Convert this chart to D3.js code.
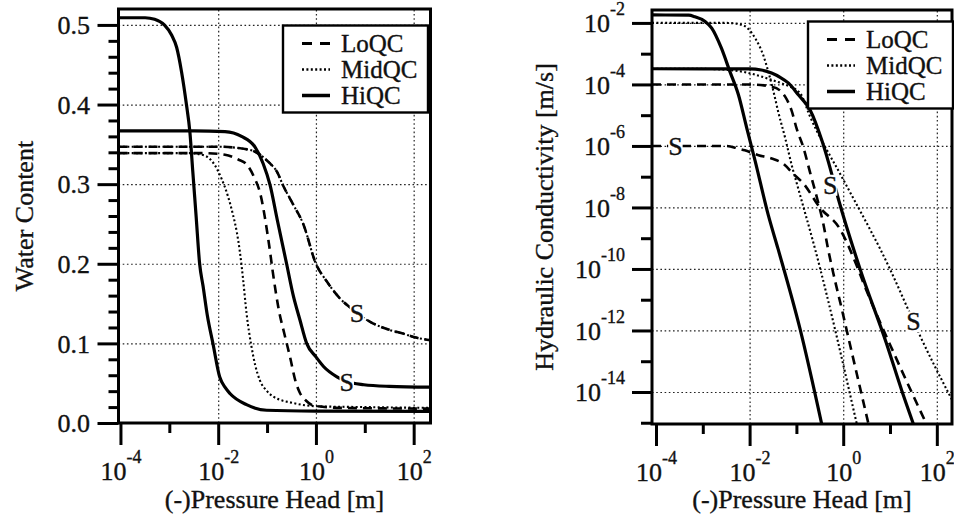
<!DOCTYPE html>
<html>
<head>
<meta charset="utf-8">
<title>Water retention and hydraulic conductivity curves</title>
<script src="https://cdn.jsdelivr.net/npm/d3@7/dist/d3.min.js"></script>
<style>
  html, body { margin: 0; padding: 0; background: #fff; }
  svg text { font-family: "Liberation Serif", "Times New Roman", "DejaVu Serif", serif; fill: #111; stroke: #111; stroke-width: 0.35; }
</style>
</head>
<body>
<svg id="chart" width="954" height="516"></svg>
<script>
// ---------------------------------------------------------------
// Data: (-)pressure head h [m] paired with the soil property
// ---------------------------------------------------------------

// Water content θ(h)
const thetaHiQC = [
  [9.12e-5, 0.509], [3.2e-4, 0.509], [5.0e-4, 0.507], [7.9e-4, 0.500],
  [1.12e-3, 0.487], [1.41e-3, 0.472], [1.78e-3, 0.441], [2.24e-3, 0.400],
  [2.63e-3, 0.366], [3.02e-3, 0.316], [3.55e-3, 0.258], [4.17e-3, 0.200],
  [4.9e-3, 0.172], [6.0e-3, 0.135], [7.8e-3, 0.100], [1.07e-2, 0.058],
  [1.41e-2, 0.044], [1.74e-2, 0.037], [3.8e-2, 0.023], [9.8e-2, 0.016],
  [1.0, 0.015], [221, 0.0145]
];
const thetaHiQC_S = [
  [9.12e-5, 0.367], [3.2e-3, 0.367], [1.38e-2, 0.366], [3.0e-2, 0.360],
  [5.6e-2, 0.347], [8.3e-2, 0.326], [0.115, 0.299], [0.162, 0.255],
  [0.251, 0.200], [0.347, 0.159], [0.468, 0.130], [0.646, 0.100],
  [1.0, 0.083], [1.43, 0.071], [2.69, 0.058], [4.27, 0.052],
  [9.55, 0.048], [31.6, 0.046], [221, 0.045]
];
const thetaLoQC = [
  [9.12e-5, 0.339], [5.0e-3, 0.339], [1.38e-2, 0.337], [2.57e-2, 0.331],
  [3.8e-2, 0.325], [5.5e-2, 0.308], [7.2e-2, 0.289], [0.107, 0.229],
  [0.138, 0.180], [0.174, 0.142], [0.224, 0.113], [0.295, 0.083],
  [0.38, 0.053], [0.468, 0.038], [0.63, 0.028], [0.89, 0.022],
  [3.16, 0.019], [221, 0.018]
];
const thetaMidQC = [
  [9.12e-5, 0.339], [2.5e-3, 0.339], [5.2e-3, 0.336], [8.5e-3, 0.324],
  [1.17e-2, 0.307], [1.58e-2, 0.285], [2.0e-2, 0.262], [2.4e-2, 0.240],
  [2.75e-2, 0.217], [3.24e-2, 0.180], [3.8e-2, 0.138], [4.8e-2, 0.096],
  [5.75e-2, 0.072], [7.1e-2, 0.054], [0.1, 0.040], [0.135, 0.033],
  [0.347, 0.025], [1.05, 0.021], [10, 0.020], [221, 0.019]
];
const thetaLoQC_S = [
  [9.12e-5, 0.347], [1.0e-2, 0.347], [4.5e-2, 0.343], [7.1e-2, 0.337],
  [0.115, 0.326], [0.158, 0.316], [0.214, 0.298], [0.339, 0.275],
  [0.55, 0.250], [1.0, 0.200], [1.66, 0.178], [3.16, 0.156],
  [5.0, 0.145], [6.9, 0.138], [12.9, 0.127], [31.6, 0.117],
  [63, 0.112], [100, 0.108], [221, 0.104]
];
// the two S retention curves of the lower classes coincide
const thetaMidQC_S = thetaLoQC_S;

// Hydraulic conductivity K(h) [m/s]
const condHiQC = [
  [8.22e-5, 1.82e-2], [5.0e-4, 1.78e-2], [6.8e-4, 1.58e-2], [1.12e-3, 1.12e-2],
  [1.55e-3, 6.8e-3], [2.5e-3, 1.51e-3], [3.8e-3, 2.6e-4], [5.75e-3, 4.7e-5],
  [8.7e-3, 3.8e-6], [1.32e-2, 3.16e-7], [2.51e-2, 5.6e-9], [4.07e-2, 4.4e-10],
  [0.120, 1.10e-12], [0.347, 9.1e-16]
];
const condHiQC_S = [
  [8.22e-5, 3.24e-4], [1.0e-2, 3.2e-4], [1.78e-2, 2.95e-4], [2.95e-2, 2.34e-4],
  [4.5e-2, 1.70e-4], [6.8e-2, 1.10e-4], [0.110, 4.6e-5], [0.195, 1.51e-5],
  [0.355, 1.41e-6], [0.479, 3.16e-7], [0.794, 1.82e-8], [2.29, 1.0e-10],
  [8.3, 4.0e-13], [17.8, 1.12e-14], [31.6, 9.1e-16]
];
const condMidQC = [
  [8.22e-5, 1.0e-2], [3.2e-3, 1.0e-2], [6.8e-3, 8.7e-3], [1.32e-2, 3.16e-3],
  [1.95e-2, 9.1e-4], [2.51e-2, 2.6e-4], [3.24e-2, 5.9e-5], [4.07e-2, 1.32e-5],
  [5.75e-2, 1.82e-6], [7.9e-2, 2.45e-7], [0.110, 4.0e-8], [0.251, 4.4e-10],
  [1.95, 9.1e-16]
];
const condLoQC = [
  [8.22e-5, 1.0e-4], [1.0e-2, 1.0e-4], [2.95e-2, 8.5e-5], [4.5e-2, 6.3e-5],
  [5.75e-2, 4.0e-5], [7.9e-2, 1.41e-5], [0.102, 3.5e-6], [0.141, 8.9e-7],
  [0.195, 1.41e-7], [0.282, 1.78e-8], [0.372, 3.16e-9], [0.468, 5.0e-10],
  [1.0, 3.16e-12], [3.47, 9.1e-16]
];
const condLoQC_S = [
  [8.22e-5, 1.0e-6], [3.2e-3, 1.0e-6], [5.75e-3, 8.2e-7], [7.9e-3, 7.2e-7],
  [1.55e-2, 5.0e-7], [2.95e-2, 3.9e-7], [5.5e-2, 2.5e-7], [8.5e-2, 1.25e-7],
  [0.141, 6.0e-8], [0.316, 1.0e-8], [0.85, 2.0e-9], [1.95, 1.26e-10],
  [2.69, 3.6e-11], [13.8, 1.17e-13], [60, 9.1e-16]
];
const condMidQC_S = [
  [8.22e-5, 3.24e-4], [1.0e-3, 3.2e-4], [5.0e-3, 2.8e-4], [2.95e-2, 1.41e-4],
  [5.75e-2, 9.8e-5], [0.120, 5.2e-5], [0.195, 9.1e-6], [1.0, 8.1e-8],
  [4.07, 1.51e-9], [6.2, 4.4e-10], [10, 9.8e-11], [31.6, 2.0e-12],
  [43.7, 6.8e-13], [190, 7.6e-15], [211, 5.6e-15]
];

// "S" markers placed on curves
const thetaMarks = [[6.9, 0.138], [4.27, 0.052]];
const condMarks = [[2.6e-4, 1.0e-6], [0.525, 5.5e-8], [31.6, 2.0e-12]];

// Axis ticks
const headMajor = [1e-4, 1e-2, 1, 1e2];
const headMinor = [1e-3, 1e-1, 1e1];
const thetaMajor = [0, 0.1, 0.2, 0.3, 0.4, 0.5];
const thetaMinor = [0.02, 0.04, 0.06, 0.08, 0.12, 0.14, 0.16, 0.18, 0.22, 0.24, 0.26, 0.28,
                    0.32, 0.34, 0.36, 0.38, 0.42, 0.44, 0.46, 0.48];
const condMajor = [1e-2, 1e-4, 1e-6, 1e-8, 1e-10, 1e-12, 1e-14];
const condMinor = [1e-3, 1e-5, 1e-7, 1e-9, 1e-11, 1e-13, 1e-15];

const legendKeys = ["LoQC", "MidQC", "HiQC"];

// ---------------------------------------------------------------
// Drawing
// ---------------------------------------------------------------
const svg = d3.select("#chart");
svg.append("rect").attr("width", 954).attr("height", 516).attr("fill", "#fff");

const lineStyle = {
  LoQC:  { dash: "9,6",     width: 2.6 },
  MidQC: { dash: "2,2.4",   width: 2.1 },
  HiQC:  { dash: null,      width: 3.2 }
};

const FONT = 26, SUP = 18, LEGEND_FONT = 25;

function superscriptLabel(sel, d) {
  sel.text(null);
  sel.append("tspan").text("10");
  sel.append("tspan").attr("font-size", SUP).attr("dy", -17)
     .text(String(Math.round(Math.log10(d))));
}

function drawPanel(cfg) {
  const { id, x, y } = cfg;
  const [x0, x1] = x.range();
  const [yb, yt] = y.range();
  const g = svg.append("g").attr("class", id);

  g.append("clipPath").attr("id", id + "-clip")
    .append("rect").attr("x", x0).attr("y", yt).attr("width", x1 - x0).attr("height", yb - yt);

  // dotted grid
  const gridStyle = s => s.call(q => q.select(".domain").remove())
    .selectAll(".tick line").attr("stroke", "#222").attr("stroke-width", 1.2)
    .attr("stroke-dasharray", "1.6,2.6");
  g.append("g").attr("transform", `translate(0,${yb})`)
    .call(d3.axisBottom(x).tickValues(cfg.gridX).tickSize(-(yb - yt)).tickFormat(""))
    .call(gridStyle);
  g.append("g").attr("transform", `translate(${x0},0)`)
    .call(d3.axisLeft(y).tickValues(cfg.gridY).tickSize(-(x1 - x0)).tickFormat(""))
    .call(gridStyle);

  // curves
  const line = d3.line().x(d => x(d[0])).y(d => y(d[1])).curve(d3.curveMonotoneX);
  const curves = g.append("g").attr("clip-path", `url(#${id}-clip)`);
  cfg.series.forEach(s => {
    const st = lineStyle[s.key];
    curves.append("path").datum(s.data)
      .attr("d", line).attr("fill", "none").attr("stroke", "#000")
      .attr("stroke-width", st.width).attr("stroke-linejoin", "round")
      .attr("stroke-dasharray", st.dash);
  });

  // "S" markers with a white knock-out
  cfg.marks.forEach(m => {
    const mg = g.append("g");
    const t = mg.append("text").attr("x", x(m[0])).attr("y", y(m[1]))
      .attr("dy", "0.35em").attr("text-anchor", "middle").attr("font-size", FONT).text("S");
    const b = t.node().getBBox();
    mg.insert("rect", "text").attr("x", b.x).attr("y", b.y + 4)
      .attr("width", b.width).attr("height", b.height - 8).attr("fill", "#fff");
  });

  // frame
  g.append("rect").attr("x", x0).attr("y", yt).attr("width", x1 - x0).attr("height", yb - yt)
    .attr("fill", "none").attr("stroke", "#000").attr("stroke-width", 3);

  // x axis
  const axStyle = s => s.call(q => q.select(".domain").remove())
    .selectAll(".tick line").attr("stroke", "#000").attr("stroke-width", 3);
  g.append("g").attr("transform", `translate(0,${yb})`)
    .call(d3.axisBottom(x).tickValues(headMinor).tickSize(10).tickFormat(""))
    .call(axStyle);
  const gx = g.append("g").attr("transform", `translate(0,${yb})`)
    .call(d3.axisBottom(x).tickValues(headMajor).tickSize(22))
    .call(axStyle);
  gx.selectAll(".tick text").each(function (d) {
    const t = d3.select(this).attr("y", 57).attr("dy", null)
      .attr("font-size", FONT).attr("text-anchor", "middle").attr("fill", "#111");
    superscriptLabel(t, d);
  });

  // y axis
  g.append("g").attr("transform", `translate(${x0},0)`)
    .call(d3.axisLeft(y).tickValues(cfg.yMinor).tickSize(cfg.minorLen).tickFormat(""))
    .call(axStyle);
  const gy = g.append("g").attr("transform", `translate(${x0},0)`)
    .call(d3.axisLeft(y).tickValues(cfg.yMajor).tickSize(cfg.majorLen).tickFormat(cfg.yFormat || null))
    .call(axStyle);
  gy.selectAll(".tick text").attr("font-size", FONT).attr("fill", "#111")
    .attr("x", -cfg.labelGap).attr("text-anchor", "end");
  if (cfg.powerY) {
    gy.selectAll(".tick text").each(function (d) {
      const t = d3.select(this).attr("y", 9).attr("dy", null);
      superscriptLabel(t, d);
    });
  } else {
    gy.selectAll(".tick text").attr("dy", "0.34em");
  }

  // axis titles
  g.append("text").attr("x", (x0 + x1) / 2).attr("y", 508).attr("text-anchor", "middle")
    .attr("font-size", FONT).text("(-)Pressure Head [m]");
  g.append("text").attr("transform", `translate(${cfg.titleX},${(yb + yt) / 2}) rotate(-90)`)
    .attr("text-anchor", "middle").attr("font-size", cfg.titleSize).text(cfg.yTitle);

  // legend
  const lg = g.append("g").attr("transform", `translate(${cfg.legend[0]},${cfg.legend[1]})`);
  lg.append("rect").attr("width", 145).attr("height", 87).attr("fill", "#fff")
    .attr("stroke", "#000").attr("stroke-width", 2.4);
  legendKeys.forEach((k, i) => {
    const yy = 18 + i * 26;
    const st = lineStyle[k];
    lg.append("line").attr("x1", 19).attr("x2", 47).attr("y1", yy).attr("y2", yy)
      .attr("stroke", "#000").attr("stroke-width", st.width + 0.3)
      .attr("stroke-dasharray", k === "LoQC" ? "10,8" : st.dash);
    lg.append("text").attr("x", 58).attr("y", yy + 8).attr("font-size", LEGEND_FONT).text(k);
  });
}

// left: water retention
const xL = d3.scaleLog().domain([9.12e-5, 221]).range([118.5, 430.5]);
const yL = d3.scaleLinear().domain([0, 0.52]).range([423, 9]);
drawPanel({
  id: "theta", x: xL, y: yL,
  gridX: [1e-2, 1, 1e2], gridY: [0.1, 0.2, 0.3, 0.4, 0.5],
  series: [
    { key: "MidQC", data: thetaMidQC_S }, { key: "LoQC", data: thetaLoQC_S },
    { key: "MidQC", data: thetaMidQC }, { key: "LoQC", data: thetaLoQC },
    { key: "HiQC", data: thetaHiQC_S }, { key: "HiQC", data: thetaHiQC }
  ],
  marks: thetaMarks,
  yMajor: thetaMajor, yMinor: thetaMinor, majorLen: 21, minorLen: 10, labelGap: 28.5,
  yFormat: d3.format(".1f"), powerY: false,
  titleX: 33, titleSize: 26, yTitle: "Water Content",
  legend: [283, 25.5]
});

// right: hydraulic conductivity
const xR = d3.scaleLog().domain([8.22e-5, 211]).range([652, 952]);
const yR = d3.scaleLog().domain([9.1e-16, 2.63e-2]).range([424, 10]);
drawPanel({
  id: "cond", x: xR, y: yR,
  gridX: [1e-2, 1, 1e2], gridY: condMajor,
  series: [
    { key: "MidQC", data: condMidQC_S }, { key: "LoQC", data: condLoQC_S },
    { key: "MidQC", data: condMidQC }, { key: "LoQC", data: condLoQC },
    { key: "HiQC", data: condHiQC_S }, { key: "HiQC", data: condHiQC }
  ],
  marks: condMarks,
  yMajor: condMajor, yMinor: condMinor, majorLen: 20, minorLen: 11, labelGap: 27,
  powerY: true,
  titleX: 553, titleSize: 26, yTitle: "Hydraulic Conductivity [m/s]",
  legend: [808, 21.5]
});
</script>
</body>
</html>
